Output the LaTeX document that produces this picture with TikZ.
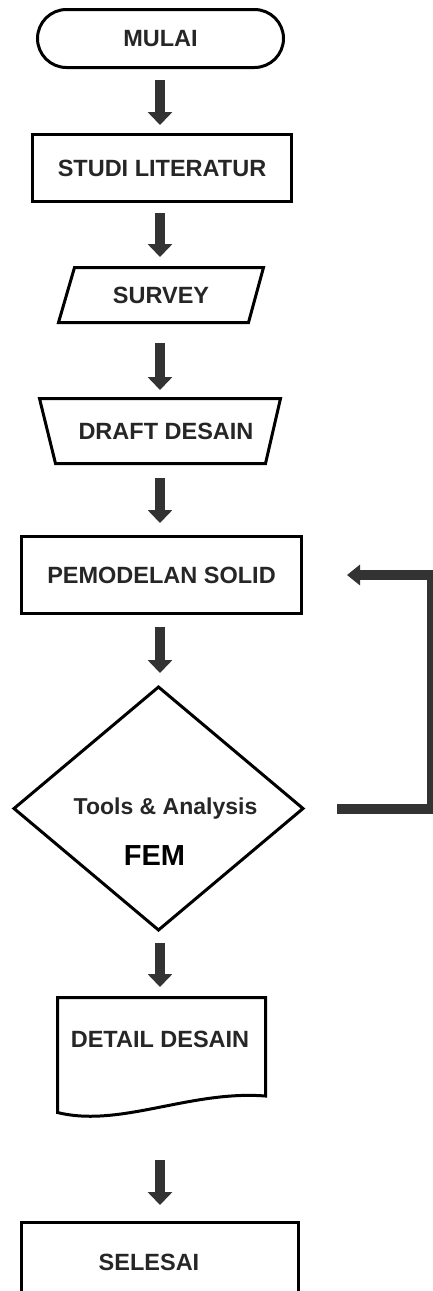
\documentclass[tikz,border=0pt]{standalone}
\usepackage{fontspec}
\usetikzlibrary{shapes.geometric,arrows.meta,calc}
\newfontfamily\lblfont{Liberation Sans}
\newcommand\lbl{\lblfont\bfseries\fontsize{23.5}{27}\selectfont}
\newcommand\toolsfont{\lblfont\bfseries\fontsize{23}{27}\selectfont}
\newcommand\femfont{\lblfont\bfseries\fontsize{29}{33}\selectfont}
\tikzset{
  flow/.style={draw=black, line width=3pt, outer sep=0pt, inner sep=0pt, font=\lbl, text=black!85, fill=white},
  termbox/.style={flow, rectangle, rounded corners=29pt},
  procbox/.style={flow, rectangle},
  anchorbox/.style={rectangle, outer sep=0pt, inner sep=0pt, font=\lbl, text=black!85},
  outline/.style={draw=black, line width=3pt, line join=miter},
  decbox/.style={flow, diamond},
  txt/.style={font=\lbl, text=black!85, inner sep=0pt},
  arr/.style={line width=10pt, draw=black!80, -{Triangle[width=24pt,length=13pt]}},
  fb/.style={line width=10pt, draw=black!80, line join=miter, -{Triangle[width=20pt,length=13pt]}},
}
\begin{document}
\begin{tikzpicture}[x=1pt, y=-1pt]
\fill[white] (0,0) rectangle (433,1291);
\useasboundingbox (0,0) rectangle (433,1291);
\coordinate (axis) at (160,0);
\coordinate (fbc) at (432,807.5);

\node[termbox, minimum width=246, minimum height=58] (mulai) at (160.5,38.5) {MULAI};
\node[procbox, minimum width=259, minimum height=67] (studi) at (162,168) {STUDI LITERATUR};

% parallelogram (input/output)
\draw[outline] (74.5,267.5) -- (263.5,267.5) -- (248.5,322.5) -- (58.5,322.5) -- cycle;
\node[anchorbox, minimum width=190, minimum height=55] (survey) at (161,295) {SURVEY};

% trapezium (manual operation)
\draw[outline] (39.5,398.5) -- (280.5,398.5) -- (265.5,463.5) -- (55.5,463.5) -- cycle;
\node[anchorbox, minimum width=241, minimum height=65] (draft) at (160,431) {\hspace*{12pt}DRAFT DESAIN};

\node[procbox, minimum width=280, minimum height=77] (pem) at (161.5,575) {PEMODELAN SOLID};
\node[decbox, minimum width=289, minimum height=243] (dec) at (158.5,808.5) {};
\node[txt, anchor=base, font=\toolsfont] (tools) at (165.5,814) {Tools \& Analysis};
\node[txt, anchor=base, font=\femfont, text=black] (fem) at (154.5,865) {FEM};

% document shape
\node[anchorbox, minimum width=208, minimum height=115] (detail) at (161.5,1055) {};
\draw[outline] (detail.north west) -- (detail.north east)
  -- (265.5,1096) .. controls (190,1090) and (120,1128) .. (detail.south west) -- cycle;
\node[txt] (dtext) at (160,1039.5) {DETAIL DESAIN};

\node[procbox, minimum width=277, minimum height=80] (selesai) at (160,1262.5) {SELESAI\hspace*{22pt}};

\draw[arr, shorten <=12.5pt, shorten >=9.5pt] (mulai.south -| axis) -- (studi.north -| axis);
\draw[arr, shorten <=11.5pt, shorten >=10.5pt] (studi.south -| axis) -- (survey.north -| axis);
\draw[arr, shorten <=20.5pt, shorten >=8.5pt] (survey.south -| axis) -- (draft.north -| axis);
\draw[arr, shorten <=14.5pt, shorten >=13.5pt] (draft.south -| axis) -- (pem.north -| axis);
\draw[arr, shorten <=13.5pt, shorten >=14pt] (pem.south -| axis) -- (dec.north -| axis);
\draw[arr, shorten <=13pt, shorten >=10.5pt] (dec.south -| axis) -- (detail.north -| axis);
\draw[arr, shorten <=47.5pt, shorten >=17.5pt] (detail.south -| axis) -- (selesai.north -| axis);

\draw[fb, shorten <=34pt, shorten >=45.5pt] (dec.east) -- (dec.east -| fbc) |- (pem.east);
\end{tikzpicture}
\end{document}
